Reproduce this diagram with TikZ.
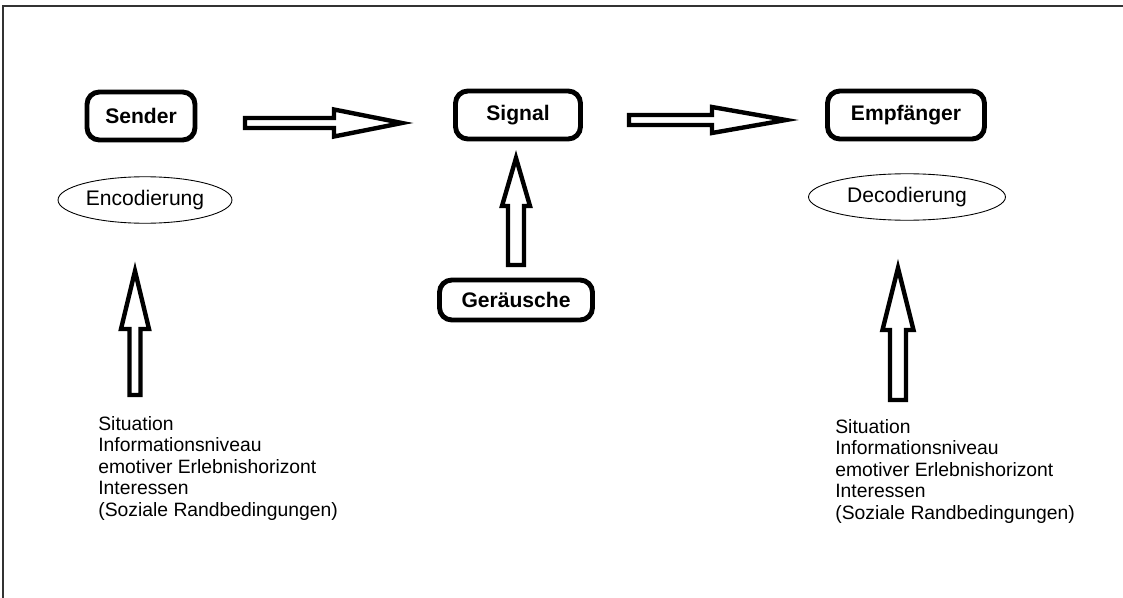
\documentclass[tikz,border=0pt]{standalone}
\usepackage{fontspec}
\setmainfont{Liberation Sans}
\usetikzlibrary{calc, positioning, shapes.geometric}

\tikzset{
  blockarrow/.style n args={3}{
    draw, line width=2.5pt, fill=white, line join=miter,
    to path={
      ($(\tikztostart)!#1!90:(\tikztotarget)$)
      -- ($(\tikztotarget)!#3!(\tikztostart)!#1!90:(\tikztotarget)$)
      -- ($(\tikztotarget)!#3!(\tikztostart)!#2!90:(\tikztotarget)$)
      -- (\tikztotarget)
      -- ($(\tikztotarget)!#3!(\tikztostart)!#2!-90:(\tikztotarget)$)
      -- ($(\tikztotarget)!#3!(\tikztostart)!#1!-90:(\tikztotarget)$)
      -- ($(\tikztostart)!#1!-90:(\tikztotarget)$)
      -- cycle
    }
  }
}

\begin{document}
\begin{tikzpicture}[
  x=0.02cm, y=-0.02cm,
  sbox/.style={draw, line width=2.8pt, rounded corners=7pt,
               minimum width=#1, minimum height=0.96cm, inner sep=0pt,
               font=\fontsize{12}{14}\selectfont\bfseries},
  oval/.style={draw, ellipse, line width=0.5pt, minimum width=#1,
               minimum height=0.93cm, inner sep=0pt,
               font=\fontsize{12}{14}\selectfont},
  factors/.style={anchor=north west, inner sep=0pt, align=left,
                  font=\fontsize{11}{12.2}\selectfont}
]
\useasboundingbox (0,0) rectangle (1123,598);
% frame
\draw[black!80, line width=0.6pt] (1123,6) -- (3,6) -- (3,598);

% Sender side
\node[sbox=2.16cm] (sender) at (141,116) {Sender};
\node[oval=3.48cm] (enc) at (145,200) {Encodierung};
\node[factors] (sitl) at (98,416) {Situation\\Informationsniveau\\emotiver Erlebnishorizont\\Interessen\\(Soziale Randbedingungen)};

% Channel
\node[sbox=2.5cm] (signal) at (518,115) {Signal};
\node[sbox=3.06cm, minimum height=0.8cm] (noise) at (516,300) {Geräusche};

% Receiver side
\node[sbox=3.14cm] (empf) at (906,115) {Empfänger};
\node[oval=3.94cm] (dec) at (907,197) {Decodierung};
\node[factors] (sitr) at (835,419) {Situation\\Informationsniveau\\emotiver Erlebnishorizont\\Interessen\\(Soziale Randbedingungen)};

% arrow ends
\coordinate (a1s) at (245,123);
\coordinate (a1e) at (402,123);
\coordinate (a2s) at (629,120);
\coordinate (a2e) at (786,120);
\coordinate (nzs) at (516,265);
\coordinate (nze) at (516,158);
\coordinate (ls) at (135,395);
\coordinate (le) at (135,271);
\coordinate (rs) at (898,400);
\coordinate (re) at (898,268);

% Arrows
\draw[blockarrow={0.1cm}{0.27cm}{1.36cm}] (a1s) to (a1e);
\draw[blockarrow={0.1cm}{0.26cm}{1.48cm}] (a2s) to (a2e);
\draw[blockarrow={0.16cm}{0.28cm}{0.96cm}] (nzs) to (nze);
\draw[blockarrow={0.11cm}{0.28cm}{1.16cm}] (ls) to (le);
\draw[blockarrow={0.16cm}{0.31cm}{1.24cm}] (rs) to (re);
\end{tikzpicture}
\end{document}
